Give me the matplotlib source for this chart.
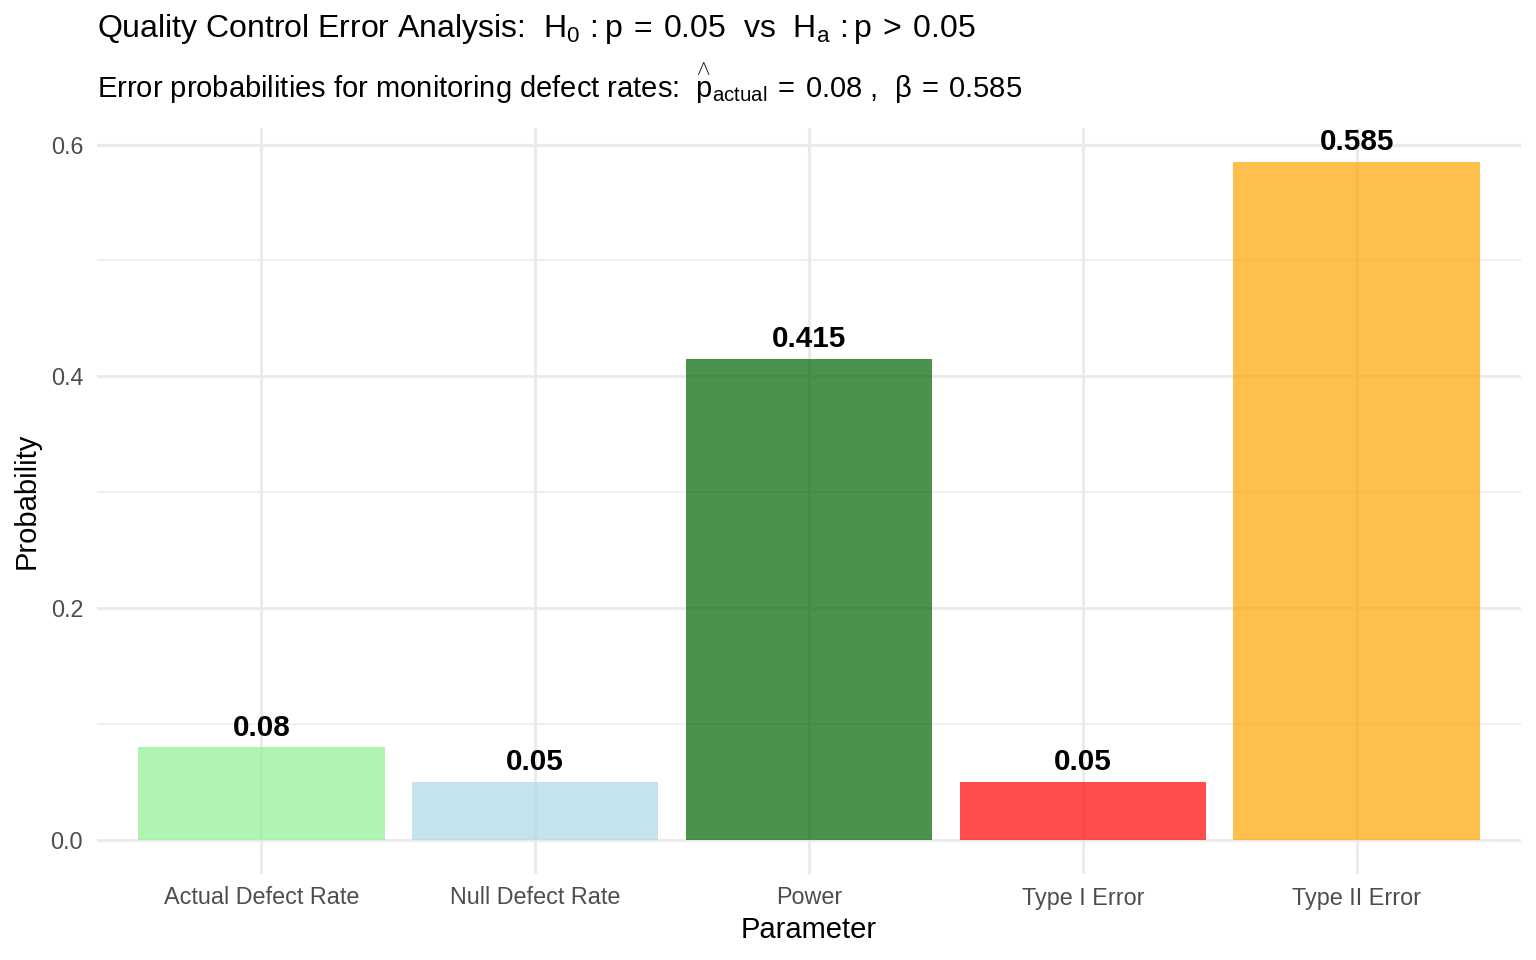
import numpy as np
import matplotlib
matplotlib.use("Agg")
import matplotlib.pyplot as plt

# data
categories = ["Actual Defect Rate", "Null Defect Rate", "Power", "Type I Error", "Type II Error"]
values = [0.08, 0.05, 0.415, 0.05, 0.585]
labels = ["0.08", "0.05", "0.415", "0.05", "0.585"]
bar_colors = ["#90EE90", "#ADD8E6", "#006400", "#FF0000", "#FFA500"]
y_ticks = [0.0, 0.2, 0.4, 0.6]
y_minor = [0.1, 0.3, 0.5]

plt.rcParams["font.family"] = ["Liberation Sans", "DejaVu Sans"]
plt.rcParams["mathtext.fontset"] = "custom"
plt.rcParams["mathtext.rm"] = "Liberation Sans"
plt.rcParams["mathtext.it"] = "Liberation Sans"
plt.rcParams["mathtext.bf"] = "Liberation Sans:bold"

W, H = 1536, 960
fig = plt.figure(figsize=(W / 100, H / 100), dpi=100)
ax = fig.add_axes([97 / W, (H - 874) / H, (1521 - 97) / W, (874 - 128) / H])

x = np.arange(len(categories))
grid_col = "#EBEBEB"

# grid (ggplot theme_minimal style)
for yv in y_ticks:
    ax.axhline(yv, color=grid_col, lw=2.2, zorder=0)
for yv in y_minor:
    ax.axhline(yv, color=grid_col, lw=1.1, zorder=0)
for xv in x:
    ax.axvline(xv, color=grid_col, lw=2.2, zorder=0)

ax.bar(x, values, width=0.9, color=bar_colors, alpha=0.7, zorder=2)

for xi, v, lab in zip(x, values, labels):
    ax.annotate(lab, (xi, v), xytext=(0, 8.5), textcoords="offset points",
                ha="center", va="baseline", fontsize=21.3, fontweight="bold",
                color="black", zorder=3)

rng = max(values)
ax.set_ylim(-0.05 * rng, rng * 1.05)
ax.set_xlim(-0.6, len(categories) - 0.4)

ax.set_xticks(x)
ax.set_xticklabels(categories)
ax.set_yticks(y_ticks)
ax.set_yticklabels(["0.0", "0.2", "0.4", "0.6"])
ax.tick_params(axis="both", length=0, labelsize=16.8, labelcolor="#4D4D4D")
ax.tick_params(axis="x", pad=9)
ax.tick_params(axis="y", pad=10)
for s in ax.spines.values():
    s.set_visible(False)

ax.set_xlabel("Parameter", fontsize=21, labelpad=5)
ax.set_ylabel("Probability", fontsize=21, labelpad=7)

fig.text(97 / W, 1 - 37 / H,
         r"Quality Control Error Analysis:  $\mathrm{H}_0\,: \mathrm{p}\:=\:0.05$  vs  "
         r"$\mathrm{H}_a\,: \mathrm{p}\:>\:0.05$",
         fontsize=23, ha="left", va="baseline")
fig.text(97 / W, 1 - 98 / H,
         r"Error probabilities for monitoring defect rates:  "
         r"$\overset{\wedge}{\mathrm{p}}_{\mathrm{actual}}\:=\:0.08$ ,  $\beta\:=\:0.585$",
         fontsize=21, ha="left", va="baseline")

fig.savefig("out.png", dpi=100, facecolor="white")
